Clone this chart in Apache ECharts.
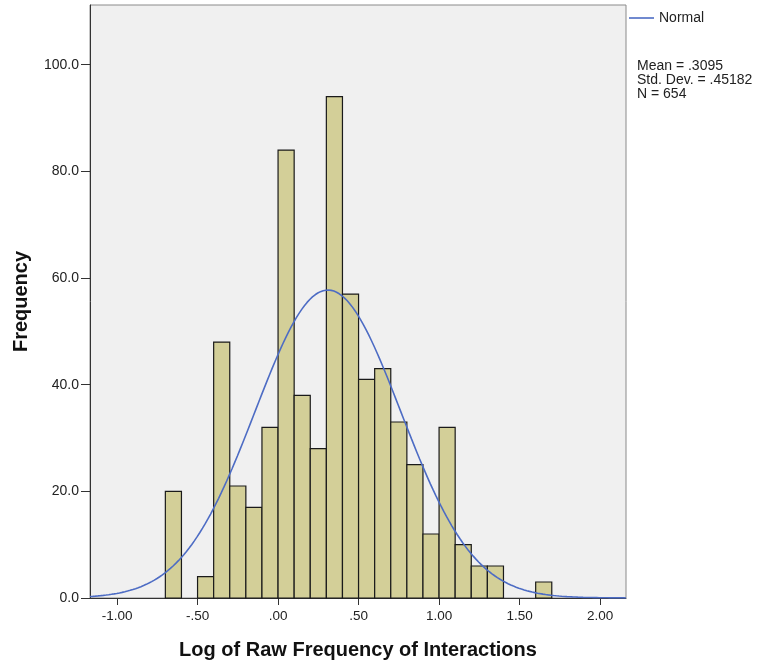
<!DOCTYPE html>
<html>
<head>
<meta charset="utf-8">
<script src="https://cdn.jsdelivr.net/npm/echarts@6/dist/echarts.min.js"></script>
<style>html,body{margin:0;padding:0;background:#fff}#c{width:761px;height:665px}</style>
</head>
<body>
<div id="c"></div>
<script>
// Histogram bins (lower edge) and frequencies
var binStarts = [-0.7,-0.6,-0.5,-0.4,-0.3,-0.2,-0.1,0.0,0.1,0.2,0.3,0.4,0.5,0.6,0.7,0.8,0.9,1.0,1.1,1.2,1.3,1.4,1.5,1.6];
var binWidth = 0.1;
var counts = [20,0,4,48,21,17,32,84,38,28,94,57,41,43,33,25,12,32,10,6,6,0,0,3];
var xTicks = [-1.0,-0.5,0.0,0.5,1.0,1.5,2.0];
var yTicks = [0,20,40,60,80,100];
var MEAN = 0.3095, SD = 0.45182, N = 654;
var statsLines = ['Mean = .3095','Std. Dev. = .45182','N = 654'];

var XMIN = -1.168, XMAX = 2.161, YMAX = 111.2;

var histData = binStarts.map(function(s,i){ return [s, s+binWidth, counts[i]]; }).filter(function(d){return d[2]>0;});

// Normal curve defined by the displayed Mean / Std. Dev. / N
var curve = [];
var steps = 200;
for (var k=0;k<=steps;k++){
  var x = XMIN + (XMAX-XMIN)*k/steps;
  var z = (x-MEAN)/SD;
  curve.push([x, N*binWidth*Math.exp(-0.5*z*z)/(SD*Math.sqrt(2*Math.PI))]);
}

function fmtX(v){
  var s = Math.abs(v).toFixed(2);
  if (s.charAt(0)==='0') s = s.substring(1);
  return (v<0?'-':'')+s;
}

var FONT = 'Liberation Sans, Arial, sans-serif';
var chart = echarts.init(document.getElementById('c'), null, {renderer:'canvas'});
chart.setOption({
  animation:false,
  backgroundColor:'#ffffff',
  textStyle:{fontFamily:FONT},
  grid:{left:90, top:5, right:135, bottom:66, show:true, backgroundColor:'#f0f0f0', borderColor:'#8a8a8a', borderWidth:1},
  legend:{
    data:['Normal'], left:624, top:6, icon:'rect', itemWidth:25, itemHeight:1.6, itemGap:4,
    textStyle:{fontSize:14, color:'#222', fontFamily:FONT},
    selectedMode:false
  },
  graphic:[{
    type:'text', left:637, top:59,
    style:{text:statsLines.join('\n'), fontSize:14, lineHeight:14, fill:'#222', fontFamily:FONT}
  }],
  xAxis:{
    type:'value', min:XMIN, max:XMAX,
    name:'Log of Raw Frequency of Interactions', nameLocation:'middle', nameGap:42,
    nameTextStyle:{fontSize:20, fontWeight:'bold', color:'#111', fontFamily:FONT},
    splitLine:{show:false},
    axisLine:{show:true, onZero:false, lineStyle:{color:'#333', width:1}},
    axisTick:{show:true, length:7, customValues:xTicks, lineStyle:{color:'#333'}},
    axisLabel:{customValues:xTicks, formatter:fmtX, fontSize:13.5, color:'#222', margin:11}
  },
  yAxis:{
    type:'value', min:0, max:YMAX,
    name:'Frequency', nameLocation:'middle', nameGap:59, nameRotate:90,
    nameTextStyle:{fontSize:20, fontWeight:'bold', color:'#111', fontFamily:FONT},
    splitLine:{show:false},
    axisLine:{show:true, onZero:false, lineStyle:{color:'#333', width:1}},
    axisTick:{show:true, length:9, customValues:yTicks, lineStyle:{color:'#333'}},
    axisLabel:{customValues:yTicks, formatter:function(v){return v.toFixed(1);}, fontSize:14, color:'#222', margin:11}
  },
  series:[{
    type:'custom', name:'Histogram', z:2,
    renderItem:function(params, api){
      var p0 = api.coord([api.value(0), api.value(2)]);
      var p1 = api.coord([api.value(1), 0]);
      return {type:'rect', shape:{x:p0[0], y:p0[1], width:p1[0]-p0[0], height:p1[1]-p0[1]},
        style:{fill:'#d3cf98', stroke:'#1a1a1a', lineWidth:1.2}};
    },
    encode:{x:[0,1], y:2},
    data:histData
  },{
    type:'line', name:'Normal', data:curve, symbol:'none', showSymbol:false, smooth:false, z:3,
    lineStyle:{color:'#4d6cc4', width:1.6}, itemStyle:{color:'#4d6cc4'}
  }]
});
</script>
</body>
</html>
